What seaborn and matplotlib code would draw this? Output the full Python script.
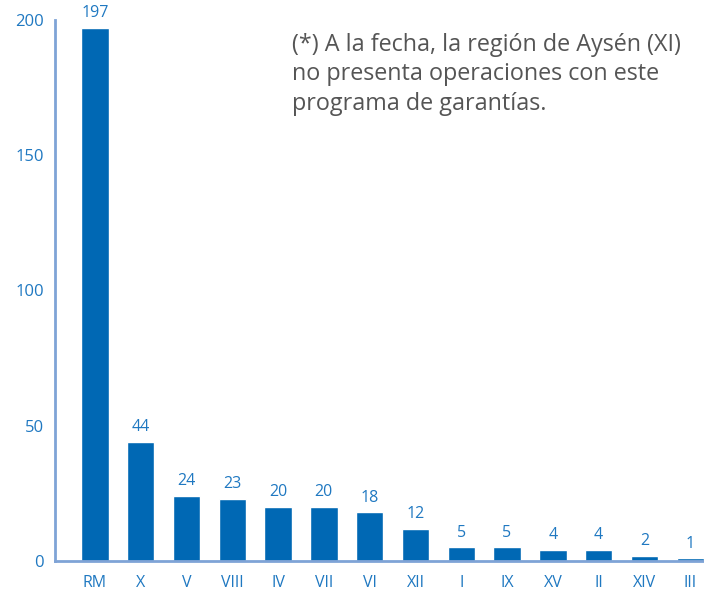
import matplotlib
matplotlib.use("Agg")
import matplotlib.pyplot as plt
import seaborn as sns
import pandas as pd

regions = ["RM", "X", "V", "VIII", "IV", "VII", "VI", "XII", "I", "IX", "XV", "II", "XIV", "III"]
operations = [197, 44, 24, 23, 20, 20, 18, 12, 5, 5, 4, 4, 2, 1]
note = "(*) A la fecha, la región de Aysén (XI)\nno presenta operaciones con este\nprograma de garantías."

bar_color = "#0068B4"
axis_color = "#7FA3D6"
text_blue = "#1F78C1"

df = pd.DataFrame({"region": regions, "ops": operations})

sns.set_style("white")
plt.rcParams["font.family"] = ["Open Sans", "DejaVu Sans"]

fig = plt.figure(figsize=(7.04, 5.90), dpi=100)
ax = fig.add_axes([55 / 704, 29 / 590, 1 - 55 / 704, 541 / 590])
sns.barplot(data=df, x="region", y="ops", color=bar_color, saturation=1, width=0.6, ax=ax)

for i, v in enumerate(operations):
    ax.text(i, v + 2.5, str(v), ha="center", va="bottom", color=text_blue, fontsize=11.5)

ax.set_ylim(0, 200)
ax.set_xlim(-0.87, 13.3)
ax.set_yticks([0, 50, 100, 150, 200])
ax.set_xlabel("")
ax.set_ylabel("")
for s in ["top", "right"]:
    ax.spines[s].set_visible(False)
for s in ["left", "bottom"]:
    ax.spines[s].set_color(axis_color)
    ax.spines[s].set_linewidth(2)
ax.tick_params(axis="y", direction="in", length=7, width=2, color=axis_color,
               labelcolor=text_blue, labelsize=12, pad=8)
ax.tick_params(axis="x", length=0, labelcolor=text_blue, labelsize=11.5, pad=10)

ax.text(0.365, 0.976, note, transform=ax.transAxes, ha="left", va="top",
        color="#555555", fontsize=16.8, linespacing=1.3)

fig.savefig("out.png", dpi=100)
